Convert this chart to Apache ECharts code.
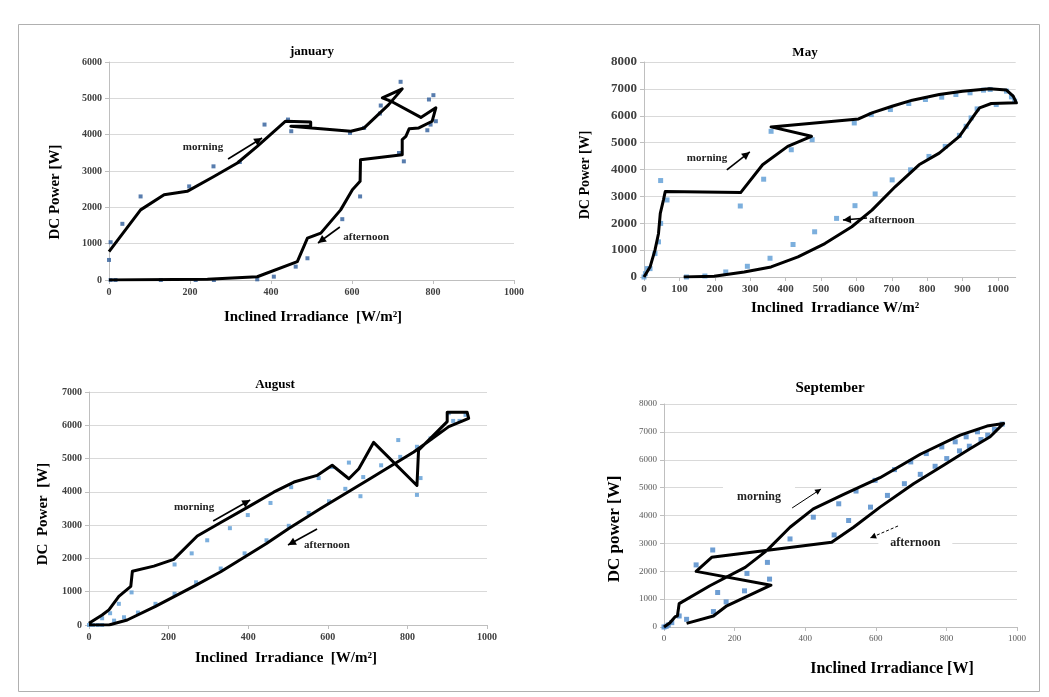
<!DOCTYPE html>
<html>
<head>
<meta charset="utf-8">
<script src="https://cdn.jsdelivr.net/npm/echarts@6/dist/echarts.min.js"></script>
<style>html,body{margin:0;padding:0;background:#fff}#c{width:1049px;height:697px}</style>
</head>
<body>
<div id="c"></div>
<script>
// ---------- DATA ----------
const titles = ['january', 'May', 'August', 'September'];
const xNames = ['Inclined Irradiance  [W/m\u00b2]', 'Inclined  Irradiance W/m\u00b2', 'Inclined  Irradiance  [W/m\u00b2]', 'Inclined Irradiance [W]'];
const yNames = ['DC Power [W]', 'DC Power [W]', 'DC  Power  [W]', 'DC power [W]'];
const xMax = [1000, 1050, 1000, 1000];
const xStep = [200, 100, 200, 200];
const yMax = [6000, 8000, 7000, 8000];
const yStep = [1000, 1000, 1000, 1000];

const janLine = [[0,780],[78,1930],[136,2345],[193,2440],[259,2850],[317,3220],[366,3680],[436,4370],[498,4350],[498,4230],[449,4230],[597,4095],[630,4185],[690,4820],[724,5260],[675,5010],[700,4900],[770,4475],[807,4740],[798,4370],[765,4185],[741,4160],[733,3955],[724,3865],[724,3450],[621,3310],[620,2715],[601,2485],[572,1930],[523,1290],[490,1150],[465,505],[366,90],[243,20],[0,0]];
const janPts = [[0,552],[4,1040],[33,1546],[78,2300],[198,2576],[258,3128],[323,3247],[384,4278],[442,4416],[450,4094],[496,4213],[595,4048],[630,4186],[671,4802],[669,4581],[720,5455],[790,4968],[801,5087],[786,4121],[794,4278],[807,4370],[716,3496],[728,3266],[620,2300],[576,1674],[490,598],[461,368],[407,92],[366,18],[259,0],[214,0],[128,0],[16,0],[4,0]];

const mayLine = [[0,0],[17,370],[31,1000],[41,1620],[46,2370],[55,2870],[60,3180],[60,3120],[273,3140],[335,4175],[406,4860],[473,5235],[359,5585],[606,5880],[644,6105],[701,6355],[758,6580],[834,6790],[900,6915],[976,7005],[1024,6955],[1043,6730],[1052,6480],[981,6455],[948,6295],[934,6045],[891,5235],[834,4610],[777,4175],[710,3365],[644,2490],[587,1870],[511,1245],[435,750],[359,375],[283,185],[198,25],[112,0]];
const mayPts = [[0,0],[4,125],[9,312],[17,312],[31,872],[41,1308],[47,1994],[47,3589],[65,2866],[272,2642],[338,3639],[359,5421],[416,4735],[475,5109],[594,5732],[642,6044],[696,6231],[748,6455],[795,6604],[841,6691],[881,6791],[921,6854],[959,6953],[978,6978],[1024,6916],[1038,6704],[1047,6542],[995,6417],[941,6255],[924,5919],[910,5607],[891,5271],[851,4860],[805,4486],[753,3988],[701,3614],[653,3090],[596,2654],[544,2181],[482,1682],[421,1209],[356,698],[292,399],[231,187],[172,37],[120,0]];

const augLine = [[0,50],[33,300],[50,455],[75,860],[105,1160],[109,1615],[163,1770],[213,1970],[272,2675],[331,3080],[398,3535],[464,3990],[515,4295],[573,4495],[611,4800],[653,4395],[678,4695],[715,5485],[824,4190],[828,5255],[858,5605],[900,6110],[900,6395],[950,6395],[954,6210],[904,5960],[816,5200],[707,4400],[582,3500],[502,2900],[446,2450],[331,1600],[269,1200],[215,860],[167,560],[96,150],[50,0],[0,0]];
const augPts = [[0,0],[10,0],[22,0],[33,0],[33,202],[53,354],[63,131],[75,636],[88,232],[107,980],[123,374],[167,636],[215,1818],[215,939],[258,2152],[269,1283],[297,2545],[331,1697],[354,2909],[391,2152],[399,3303],[456,3667],[446,2545],[502,2980],[508,4141],[552,3364],[577,4414],[603,3717],[611,4747],[644,4091],[653,4879],[682,3869],[689,4444],[734,4798],[777,5556],[782,5051],[824,5354],[824,3909],[833,4414],[858,5606],[904,6364],[915,6131],[931,6131],[946,6313]];

const sepLine = [[0,0],[17,155],[31,360],[38,400],[43,840],[130,1480],[230,2140],[291,2740],[357,3580],[423,4240],[509,4757],[612,5357],[726,6198],[839,6883],[915,7207],[962,7303],[967,7243],[924,6823],[868,6402],[792,5802],[707,5141],[612,4300],[537,3580],[475,3039],[135,2500],[91,1995],[303,1500],[178,760],[140,395],[64,130]];
const sepPts = [[0,0],[6,24],[12,72],[22,156],[43,396],[64,276],[91,2228],[138,2763],[140,553],[152,1237],[176,901],[228,1297],[235,1922],[293,2318],[299,1718],[357,3159],[423,3940],[482,3303],[495,4420],[523,3820],[544,4877],[585,4300],[598,5261],[633,4721],[653,5646],[681,5141],[699,5922],[726,5477],[743,6222],[768,5766],[787,6462],[801,6042],[825,6643],[837,6318],[856,6823],[865,6486],[888,7003],[898,6727],[917,6883],[936,7087],[958,7279]];

const lines = [janLine, mayLine, augLine, sepLine];
const pts = [janPts, mayPts, augPts, sepPts];

// annotations in data coordinates: [label, labelPos, arrowFrom, arrowTo]
const notes = [
  [['morning',[232,3661],[294,3331],[378,3909]], ['afternoon',[635,1184],[570,1459],[516,1018]]],
  [['morning',[178,4429],[234,3982],[299,4652]], ['afternoon',[700,2121],[630,2196],[562,2121]]],
  [['morning',[264,3544],[312,3123],[405,3754]], ['afternoon',[598,2402],[573,2883],[500,2402]]],
  [['morning',[269,4664],[363,4270],[445,4952]], ['afternoon',[712,3014],[663,3624],[584,3193]]]
];

// ---------- LAYOUT / STYLE ----------
const grids = [
  {left:109, top:62, width:405, height:218},
  {left:644, top:62, width:371.7, height:215},
  {left:89, top:392, width:398, height:233},
  {left:664, top:404, width:353, height:223}
];
const titlePos = [[307,40],[800,41],[270,373],[825,376]];
const titleSize = [13,13,13,15];
const tickFont = [
  {fontSize:10, fontWeight:'bold', color:'#404040'},
  {fontSize:11, fontWeight:'bold', color:'#404040'},
  {fontSize:10, fontWeight:'bold', color:'#404040'},
  {fontSize:9, fontWeight:'normal', color:'#595959'}
];
const yTickFont = [
  {fontSize:10, fontWeight:'bold', color:'#404040'},
  {fontSize:13, fontWeight:'bold', color:'#404040'},
  {fontSize:10, fontWeight:'bold', color:'#404040'},
  {fontSize:9, fontWeight:'normal', color:'#595959'}
];
const xNamePos = [[313,317,15],[835,308,15],[286,658,15],[892,669,16]];
const yNamePos = [[55,192,15],[585,175,14],[43,514,15],[615,529,17]];
const ptColor = ['#2e5d9a','#5b9bd5','#5b9bd5','#4a86c8'];
const ptSize = [4,5,4,5];
const FONT = 'Liberation Serif';
const plain = v => String(v);

const chart = echarts.init(document.getElementById('c'), null, {renderer:'canvas'});

const option = {
  backgroundColor:'#fff',
  animation:false,
  title: titles.map((t,i)=>({text:t, left:titlePos[i][0], top:titlePos[i][1], textAlign:'center',
    textStyle:{fontFamily:FONT, fontWeight:'bold', fontSize:titleSize[i], color:'#000'}})),
  grid: grids,
  xAxis: grids.map((g,i)=>({type:'value', gridIndex:i, min:0, max:xMax[i], interval:xStep[i],
    axisLine:{show:true, onZero:false, lineStyle:{color:'#bfbfbf'}},
    axisTick:{show:true, length:4, lineStyle:{color:'#bfbfbf'}},
    splitLine:{show:false},
    axisLabel:Object.assign({fontFamily:FONT, margin:7, formatter:plain, showMaxLabel: xMax[i]%xStep[i]===0}, tickFont[i])})),
  yAxis: grids.map((g,i)=>({type:'value', gridIndex:i, min:0, max:yMax[i], interval:yStep[i],
    axisLine:{show:true, lineStyle:{color:'#bfbfbf'}},
    axisTick:{show:true, length:4, lineStyle:{color:'#bfbfbf'}},
    splitLine:{show:true, lineStyle:{color:'#d9d9d9'}},
    axisLabel:Object.assign({fontFamily:FONT, margin:7, formatter:plain}, yTickFont[i])})),
  series: []
};
for (let i=0;i<4;i++){
  option.series.push({type:'scatter', xAxisIndex:i, yAxisIndex:i, data:pts[i], symbol:'rect',
    symbolSize:ptSize[i], itemStyle:{color:ptColor[i]}, z:2});
  option.series.push({type:'line', xAxisIndex:i, yAxisIndex:i, data:lines[i], showSymbol:false,
    symbol:'none', lineStyle:{color:'#000', width:3, join:'round'}, z:3});
}
chart.setOption(option);

// ---------- TEXT + ARROWS (positioned from data coordinates) ----------
const gfx = [];
gfx.push({type:'rect', shape:{x:18.5,y:24.5,width:1021,height:667}, style:{fill:'none', stroke:'#b0b0b0', lineWidth:1}, silent:true});
for (let i=0;i<4;i++){
  gfx.push({type:'text', x:xNamePos[i][0], y:xNamePos[i][1], style:{text:xNames[i], fontFamily:FONT, fontWeight:'bold', fontSize:xNamePos[i][2], fill:'#000', align:'center', verticalAlign:'middle'}});
  gfx.push({type:'text', x:yNamePos[i][0], y:yNamePos[i][1], rotation:Math.PI/2, style:{text:yNames[i], fontFamily:FONT, fontWeight:'bold', fontSize:yNamePos[i][2], fill:'#000', align:'center', verticalAlign:'middle'}});
  notes[i].forEach((n, k)=>{
    const p = chart.convertToPixel({gridIndex:i}, n[1]);
    const a = chart.convertToPixel({gridIndex:i}, n[2]);
    const b = chart.convertToPixel({gridIndex:i}, n[3]);
    const sep = i===3;
    gfx.push({type:'text', x:p[0], y:p[1], z:10, style:{text:n[0], fontFamily:FONT, fontWeight:'bold', fontSize: sep?12:11, fill:'#222', align:'center', verticalAlign:'middle',
      backgroundColor: sep ? '#fff' : null, padding: sep ? (k===0?[11,14]:[4,12]) : 0}});
    const lw = sep ? 1 : 1.6;
    gfx.push({type:'line', z:10, shape:{x1:a[0],y1:a[1],x2:b[0],y2:b[1]}, style:{stroke:'#000', lineWidth:lw, lineDash: (sep&&k===1)?[3,2]:null}});
    const ang = Math.atan2(b[1]-a[1], b[0]-a[0]);
    const L = sep?6:8, W = sep?3:4;
    const bx = b[0]-L*Math.cos(ang), by = b[1]-L*Math.sin(ang);
    gfx.push({type:'polygon', z:10, shape:{points:[[b[0],b[1]],[bx+W*Math.sin(ang), by-W*Math.cos(ang)],[bx-W*Math.sin(ang), by+W*Math.cos(ang)]]}, style:{fill:'#000'}});
  });
}
chart.setOption({graphic: gfx});
</script>
</body>
</html>
